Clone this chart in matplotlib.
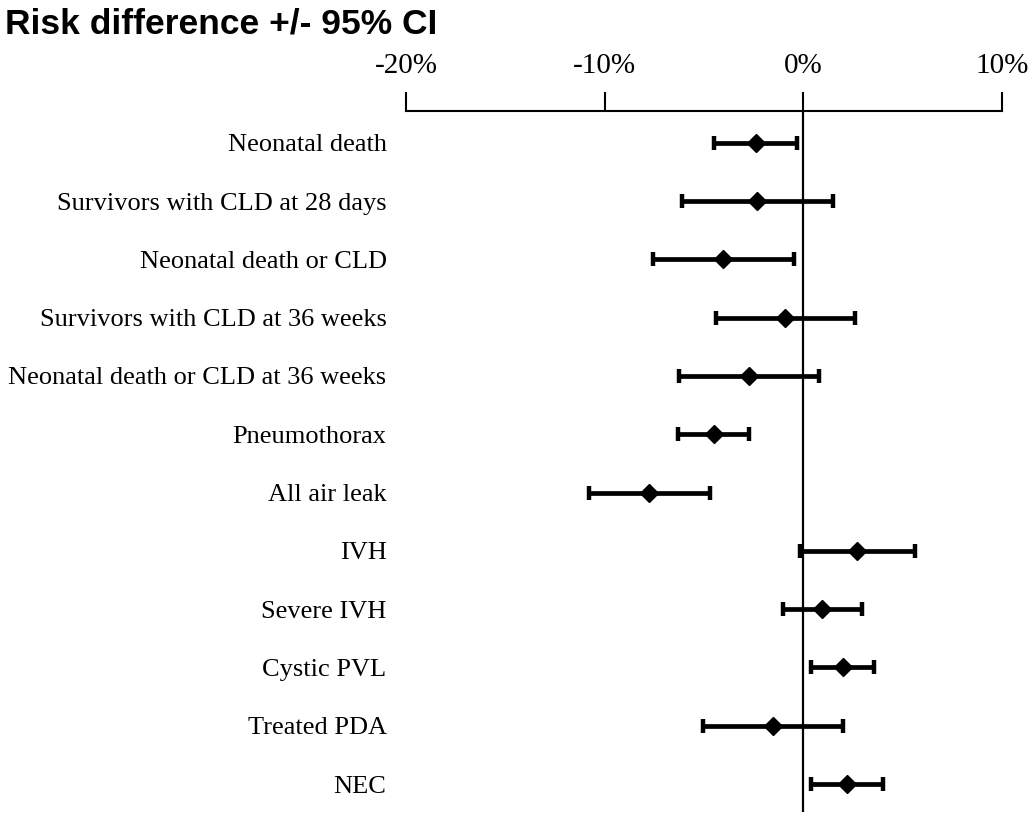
import matplotlib.pyplot as plt
import numpy as np

# outcomes, point estimate and 95% CI (risk difference, %)
outcomes = ["Neonatal death", "Survivors with CLD at 28 days", "Neonatal death or CLD",
            "Survivors with CLD at 36 weeks", "Neonatal death or CLD at 36 weeks",
            "Pneumothorax", "All air leak", "IVH", "Severe IVH", "Cystic PVL",
            "Treated PDA", "NEC"]
rd = [-2.4, -2.35, -4.05, -0.9, -2.75, -4.5, -7.75, 2.7, 0.95, 2.0, -1.55, 2.2]
ci_low = [-4.5, -6.1, -7.55, -4.4, -6.25, -6.3, -10.8, -0.15, -1.0, 0.4, -5.05, 0.4]
ci_high = [-0.3, 1.5, -0.45, 2.6, 0.8, -2.75, -4.7, 5.6, 2.95, 3.55, 2.0, 4.0]

ticks = [-20, -10, 0, 10]
tick_labels = ["-20%", "-10%", "0%", "10%"]

plt.rcParams['font.family'] = ['Liberation Serif', 'DejaVu Serif']

fig = plt.figure(figsize=(10.33, 8.18), dpi=100)
ax = fig.add_axes([0.393, 0.0073, 0.577, 0.857])

y = np.arange(len(outcomes))
rd = np.array(rd)
err = [rd - np.array(ci_low), np.array(ci_high) - rd]

ax.axvline(0, color="black", lw=1.6, zorder=1)
ax.errorbar(rd, y, xerr=err, fmt="D", color="black", ms=9, elinewidth=3.4,
            capsize=5, capthick=3.2, zorder=3)

ax.set_xlim(-20, 10)
ax.set_ylim(11.48, -0.544)

ax.xaxis.tick_top()
ax.set_xticks(ticks)
ax.set_xticklabels(tick_labels, fontsize=21)
ax.tick_params(axis="x", direction="out", length=14, width=1.5, pad=9)

ax.set_yticks(y)
ax.set_yticklabels(outcomes, fontsize=19)
ax.tick_params(axis="y", length=0, pad=14)

for s in ["bottom", "left", "right"]:
    ax.spines[s].set_visible(False)
ax.spines["top"].set_linewidth(1.5)

fig.text(0.005, 1 - 34 / 818, "Risk difference +/- 95% CI", fontsize=25.5, fontweight="bold",
         family="Liberation Sans", va="baseline", ha="left")

fig.savefig("out.png", dpi=100)
